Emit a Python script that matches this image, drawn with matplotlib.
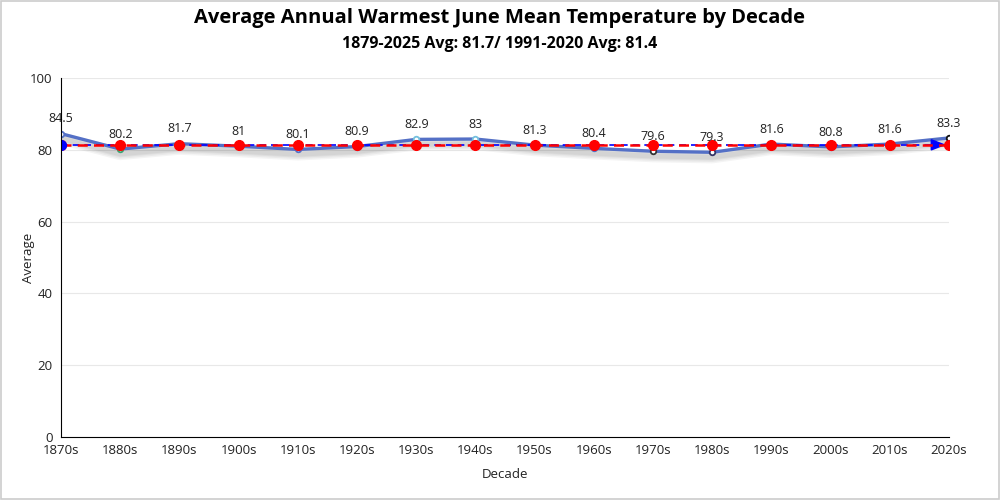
import matplotlib
matplotlib.use("Agg")
import matplotlib.pyplot as plt
import matplotlib.patheffects as pe

decades = ["1870s", "1880s", "1890s", "1900s", "1910s", "1920s", "1930s", "1940s",
           "1950s", "1960s", "1970s", "1980s", "1990s", "2000s", "2010s", "2020s"]
averages = [84.5, 80.2, 81.7, 81.0, 80.1, 80.9, 82.9, 83.0,
            81.3, 80.4, 79.6, 79.3, 81.6, 80.8, 81.6, 83.3]
labels = ["84.5", "80.2", "81.7", "81", "80.1", "80.9", "82.9", "83",
          "81.3", "80.4", "79.6", "79.3", "81.6", "80.8", "81.6", "83.3"]
normal_1991_2020 = 81.4
series_mean = sum(averages) / len(averages)
marker_edges = ["#5470c6", "#3ba272", "#91cc75", "#5470c6", "#5470c6", "#5470c6",
                "#73c0de", "#73c0de", "#5470c6", "#5470c6", "#333333", "#333366",
                "#5470c6", "#5470c6", "#5470c6", "#111111"]

plt.rcParams['font.family'] = ['Open Sans', 'DejaVu Sans']

fig = plt.figure(figsize=(10, 5), dpi=100)
fig.patch.set_facecolor("white")
ax = fig.add_axes([0.061, 0.126, 0.888, 0.718])

x = list(range(len(decades)))

# grid
for v in [20, 40, 60, 80, 100]:
    ax.axhline(v, color="#e8e8e8", lw=0.8, zorder=0)

# main series with soft shadow
shadow = [pe.SimpleLineShadow(offset=(0, -3.5), shadow_color="black", alpha=0.045, linewidth=w)
          for w in (9, 7, 5, 3.5)]
ax.plot(x, averages, color="#5470c6", lw=2.4, zorder=3,
        path_effects=shadow + [pe.Normal()])
for xi, yi, ec in zip(x, averages, marker_edges):
    ax.plot([xi], [yi], 'o', ms=4, mfc="white", mec=ec, mew=1.3, zorder=3.5)

# blue markline (series average)
ax.plot([0, len(x) - 1], [series_mean, series_mean], color="blue", lw=1.2,
        ls=(0, (4, 3)), zorder=4)
ax.annotate("", xy=(len(x) - 1, series_mean), xytext=(len(x) - 1.35, series_mean),
            arrowprops=dict(arrowstyle="-|>,head_length=0.9,head_width=0.35",
                            color="blue", lw=1.2), zorder=5)

# red normal line
ax.plot(x, [normal_1991_2020] * len(x), color="red", lw=1.8, ls=(0, (4, 2.5)),
        marker='o', ms=7, zorder=5)
ax.plot([0], [series_mean], 'o', color="blue", ms=7, zorder=6)

for xi, yi, lab in zip(x, averages, labels):
    ax.annotate(lab, (xi, yi), xytext=(0, 6), textcoords="offset points",
                ha="center", va="bottom", fontsize=9, color="#222222", zorder=7)

ax.set_xlim(0, len(x) - 1)
ax.set_ylim(0, 100)
ax.set_yticks([0, 20, 40, 60, 80, 100])
ax.set_xticks(x)
ax.set_xticklabels(decades)
ax.tick_params(axis='y', length=0, labelsize=9.5, colors="#222222", pad=6)
ax.tick_params(axis='x', length=0, labelsize=9.5, colors="#222222", pad=5)
for s in ["top", "right"]:
    ax.spines[s].set_visible(False)
ax.spines["left"].set_color("black")
ax.spines["bottom"].set_color("black")
ax.spines["left"].set_zorder(8)

ax.set_ylabel("Average", fontsize=9.5, color="#222222")
ax.yaxis.set_label_coords(-0.029, 0.5)
ax.set_xlabel("Decade", fontsize=9.5, color="#222222", labelpad=8)

fig.text(0.5, 0.965, "Average Annual Warmest June Mean Temperature by Decade",
         ha="center", va="center", fontsize=14.5, fontweight="bold", color="black")
fig.text(0.5, 0.912, "1879-2025 Avg: 81.7/ 1991-2020 Avg: 81.4",
         ha="center", va="center", fontsize=11.5, fontweight="bold", color="black")

# figure border
fig.add_artist(plt.Rectangle((0.001, 0.002), 0.998, 0.996, transform=fig.transFigure,
                             fill=False, edgecolor="#cccccc", lw=1.2))

fig.savefig("out.png", dpi=100, facecolor="white")
